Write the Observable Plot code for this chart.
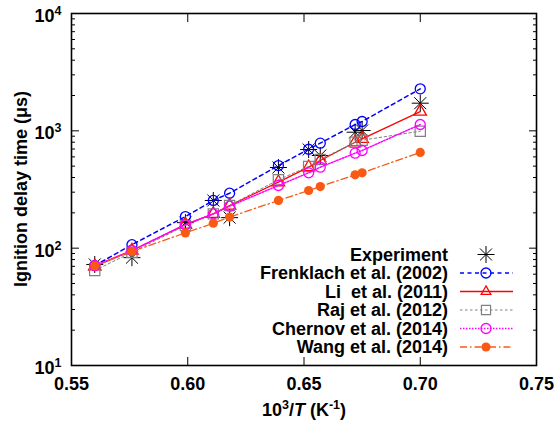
<!DOCTYPE html>
<html><head><meta charset="utf-8">
<script src="https://cdn.jsdelivr.net/npm/d3@7"></script>
<script src="https://cdn.jsdelivr.net/npm/@observablehq/plot@0.6"></script>
<style>
body{margin:0;background:#fff;}
#wrap{position:relative;width:555px;height:431px;}
#wrap svg{display:block;}
#overlay{position:absolute;left:0;top:0;pointer-events:none;}
</style></head><body><div id="wrap"></div>
<script>
// ---- data ----
const invT = [0.560, 0.576, 0.599, 0.611, 0.618, 0.639, 0.652, 0.657, 0.672, 0.675, 0.700];
const experiment = [72.6, 83, 165, 255, 182, 487, 693, 616, 973, 1006, 1720];
const frenklach = [71, 107, 186, 255, 294, 506, 697, 785, 1132, 1201, 2280];
const li = [70, 95.5, 159, 196, 231, 365, 490, 559, 800, 855, 1460];
const raj = [64.5, 92.4, 156, 196, 231, 383, 497, 570, 800, 832, 993];
const chernov = [71, 95.5, 159, 196, 228, 342, 439, 490, 645, 680, 1132];
const wang = [70.6, 93.7, 135, 163, 184, 255, 310, 335, 422, 439, 654];
const seriesNames = ["Experiment", "Frenklach et al. (2002)", "Li  et al. (2011)", "Raj et al. (2012)", "Chernov et al. (2014)", "Wang et al. (2014)"];
const xTicks = [0.55, 0.60, 0.65, 0.70, 0.75];
const yMajor = [10, 100, 1000, 10000];

// ---- styles ----
const asterisk8 = {draw(ctx, size) {
  const r = Math.sqrt(size / Math.PI), d = r * Math.SQRT1_2;
  ctx.moveTo(-r, 0); ctx.lineTo(r, 0); ctx.moveTo(0, -r); ctx.lineTo(0, r);
  ctx.moveTo(-d, -d); ctx.lineTo(d, d); ctx.moveTo(-d, d); ctx.lineTo(d, -d);
}};
const seriesVals = [experiment, frenklach, li, raj, chernov, wang];
const styles = [
  {stroke: "#000", line: false, symbol: asterisk8, r: 8.5, fill: "none", sw: 1, dash: null, lw: 0},
  {stroke: "#0000ff", line: true, symbol: "circle", r: 5, fill: "none", sw: 1.3, dash: "4,3.5", lw: 1.5},
  {stroke: "#ff0000", line: true, symbol: "triangle", r: 4.6, fill: "none", sw: 1.3, dash: null, lw: 1.3},
  {stroke: "#808080", line: true, symbol: "square", r: 5.8, fill: "none", sw: 1.2, dash: "2.5,2.5", lw: 1},
  {stroke: "#ff00ff", line: true, symbol: "circle", r: 5, fill: "none", sw: 1.3, dash: "1.5,1.5", lw: 1.5},
  {stroke: "#f85a14", line: true, symbol: "circle", r: 4.6, fill: "#f85a14", sw: 0, dash: "7,3,1.5,3", lw: 1.3}
];
const yMinor = [];
for (const dec of [10, 100, 1000]) for (let k = 2; k <= 9; k++) yMinor.push(k * dec);

const FONT = "'Liberation Sans', Arial, Helvetica, sans-serif";
const marks = [];
const noText = () => "";
marks.push(
  Plot.axisY({anchor: "left", ticks: yMajor, tickSize: -8, tickFormat: noText, label: null}),
  Plot.axisY({anchor: "left", ticks: yMinor, tickSize: -4, tickFormat: noText, label: null}),
  Plot.axisY({anchor: "right", ticks: yMajor, tickSize: -8, tickFormat: noText, label: null}),
  Plot.axisY({anchor: "right", ticks: yMinor, tickSize: -4, tickFormat: noText, label: null}),
  Plot.axisY({anchor: "left", ticks: yMajor, tickSize: 0, tickPadding: 10, tickFormat: d => String(Math.round(Math.log10(d))), label: null}),
  Plot.axisX({anchor: "bottom", ticks: xTicks, tickSize: -8, tickFormat: noText, label: null}),
  Plot.axisX({anchor: "top", ticks: xTicks, tickSize: -8, tickFormat: noText, label: null}),
  Plot.axisX({anchor: "bottom", ticks: xTicks, tickSize: 0, tickPadding: 12, tickFormat: d3.format(".2f"), label: null})
);
seriesVals.forEach((vals, s) => {
  const st = styles[s];
  const rows = invT.map((x, i) => ({x, y: vals[i]}));
  if (st.line) marks.push(Plot.line(rows, {x: "x", y: "y", stroke: st.stroke, strokeWidth: st.lw, strokeDasharray: st.dash}));
  marks.push(Plot.dot(rows, {x: "x", y: "y", symbol: st.symbol, r: st.r, stroke: st.sw ? st.stroke : "none", strokeWidth: st.sw, fill: st.fill}));
});
marks.push(Plot.frame({stroke: "#000", strokeWidth: 1.6}));

const chart = Plot.plot({
  width: 555, height: 431,
  marginLeft: 71, marginRight: 19, marginTop: 13, marginBottom: 66,
  style: {fontFamily: FONT, fontSize: "18px", fontWeight: "bold", background: "white", color: "black"},
  x: {domain: [0.55, 0.75]},
  y: {type: "log", domain: [10, 10000]},
  marks
});
document.getElementById("wrap").appendChild(chart);

// remove empty tick texts, superscript exponents on y tick labels
d3.select(chart).selectAll('g[aria-label$="tick label"] text').each(function () {
  if (this.textContent === "") this.remove();
});
d3.select(chart).selectAll('g[aria-label="y-axis tick label"] text').each(function () {
  const e = this.textContent;
  if (!e) return;
  const t = d3.select(this);
  t.text(null);
  t.append("tspan").attr("dy", "0.15em").text("10");
  t.append("tspan").attr("dy", "-0.55em").attr("font-size", "12.5px").text(e);
});

// overlay: axis labels and legend
const ov = d3.select("#wrap").append("svg").attr("id", "overlay")
  .attr("width", 555).attr("height", 431)
  .style("font-family", FONT).style("font-weight", "bold").style("font-size", "18px");

const xl = ov.append("text").attr("x", 304).attr("y", 416).attr("text-anchor", "middle");
xl.append("tspan").text("10");
xl.append("tspan").attr("dy", -7).attr("font-size", "12.5px").text("3");
xl.append("tspan").attr("dy", 7).text("/");
xl.append("tspan").attr("font-style", "italic").text("T");
xl.append("tspan").text(" (K");
xl.append("tspan").attr("dy", -7).attr("font-size", "12.5px").text("-1");
xl.append("tspan").attr("dy", 7).text(")");

ov.append("text").attr("transform", "translate(27,189) rotate(-90)").attr("text-anchor", "middle")
  .text("Ignition delay time (\u03bcs)");

const lg = ov.append("g");
seriesNames.forEach((name, i) => {
  const cy = 254.5 + i * 18.5;
  const st = styles[i];
  lg.append("text").attr("x", 448).attr("y", cy).attr("dy", "0.36em").attr("text-anchor", "end")
    .style("white-space", "pre").attr("xml:space", "preserve").text(name);
  if (st.line) lg.append("line").attr("x1", 460).attr("x2", 513).attr("y1", cy).attr("y2", cy)
    .attr("stroke", st.stroke).attr("stroke-width", st.lw).attr("stroke-dasharray", st.dash);
  const sym = typeof st.symbol === "string" ? {circle: d3.symbolCircle, triangle: d3.symbolTriangle2, square: d3.symbolSquare2}[st.symbol] : st.symbol;
  lg.append("path").attr("transform", `translate(486,${cy})`)
    .attr("d", d3.symbol(sym, Math.PI * st.r * st.r)())
    .attr("fill", st.fill).attr("stroke", st.sw ? st.stroke : "none").attr("stroke-width", st.sw);
});
</script></body></html>
